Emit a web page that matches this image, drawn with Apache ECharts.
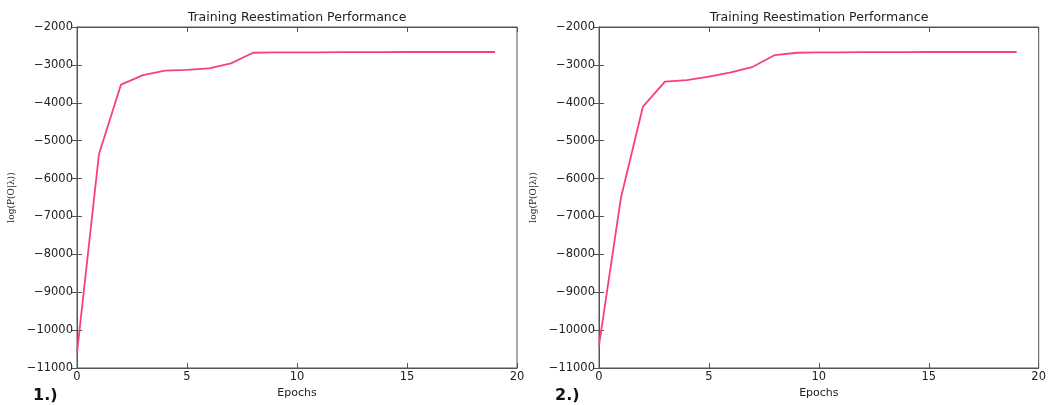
<!DOCTYPE html>
<html>
<head>
<meta charset="utf-8">
<script src="https://cdn.jsdelivr.net/npm/echarts@6/dist/echarts.min.js"></script>
<style>html,body{margin:0;padding:0;background:#fff}#c{width:1049px;height:405px}</style>
</head>
<body>
<div id="c"></div>
<script>
const epochs = [0,1,2,3,4,5,6,7,8,9,10,11,12,13,14,15,16,17,18,19];
const run1 = [-10600,-5350,-3520,-3270,-3150,-3130,-3090,-2960,-2680,-2670,-2670,-2670,-2665,-2665,-2665,-2660,-2660,-2660,-2660,-2660];
const run2 = [-10400,-6500,-4100,-3440,-3400,-3310,-3200,-3050,-2740,-2680,-2670,-2670,-2665,-2665,-2665,-2660,-2660,-2660,-2660,-2660];
const titles = ['Training Reestimation Performance','Training Reestimation Performance'];
const panelLabels = ['1.)','2.)'];
const xTicks = {min:0,max:20,interval:5};
const yTicks = {min:-11000,max:-2000,interval:1000};

const chart = echarts.init(document.getElementById('c'));
const lineColor = '#f7417a';
const axisColor = '#555';
const txt = '#222';
const fontFam = 'DejaVu Sans, sans-serif';
const lefts = [77, 599];
const W = 440, H = 341, TOP = 27;
const yFmt = v => (v < 0 ? '\u2212' : '') + Math.abs(v);

const grids = [], xAxes = [], yAxes = [], series = [], graphics = [];
[run1, run2].forEach((run, i) => {
  grids.push({left: lefts[i], top: TOP, width: W, height: H, show: true, borderColor: axisColor, borderWidth: 1, backgroundColor: '#fff'});
  xAxes.push({type:'value', gridIndex:i, min:xTicks.min, max:xTicks.max, interval:xTicks.interval, position:'bottom',
    name:'Epochs', nameLocation:'middle', nameGap:17, nameTextStyle:{color:txt, fontSize:11, fontFamily:fontFam},
    axisLine:{show:true, lineStyle:{color:axisColor}}, axisTick:{show:true, inside:true, length:5, lineStyle:{color:axisColor}},
    axisLabel:{color:txt, fontSize:11.5, fontFamily:fontFam, margin:3}, splitLine:{show:false}});
  xAxes.push({type:'value', gridIndex:i, min:xTicks.min, max:xTicks.max, interval:xTicks.interval, position:'top',
    axisLine:{show:true, lineStyle:{color:axisColor}}, axisTick:{show:true, inside:true, length:5, lineStyle:{color:axisColor}},
    axisLabel:{show:false}, splitLine:{show:false}});
  yAxes.push({type:'value', gridIndex:i, min:yTicks.min, max:yTicks.max, interval:yTicks.interval, position:'left',
    name:'log(P(O|λ))', nameLocation:'middle', nameGap:61, nameRotate:90,
    nameTextStyle:{color:txt, fontSize:9, fontFamily:'DejaVu Serif, serif'},
    axisLine:{show:true, lineStyle:{color:axisColor}}, axisTick:{show:true, inside:true, length:5, lineStyle:{color:axisColor}},
    axisLabel:{color:txt, fontSize:11.5, fontFamily:fontFam, margin:4, formatter:yFmt}, splitLine:{show:false}});
  yAxes.push({type:'value', gridIndex:i, min:yTicks.min, max:yTicks.max, interval:yTicks.interval, position:'right',
    axisLine:{show:true, lineStyle:{color:axisColor}}, axisTick:{show:true, inside:true, length:5, lineStyle:{color:axisColor}},
    axisLabel:{show:false}, splitLine:{show:false}});
  series.push({type:'line', xAxisIndex:2*i, yAxisIndex:2*i, data: epochs.map((e,k)=>[e, run[k]]),
    showSymbol:false, symbol:'none', lineStyle:{color:lineColor, width:1.8}, itemStyle:{color:lineColor}, animation:false});
  graphics.push({type:'text', x: lefts[i] + W/2, y: 18, style:{text: titles[i], fill: txt, font: '12.5px ' + fontFam, align:'center', verticalAlign:'middle'}});
  graphics.push({type:'text', x: lefts[i] - 44, y: 396, style:{text: panelLabels[i], fill: '#111', font: 'bold 16px ' + fontFam, verticalAlign:'middle'}});
});

chart.setOption({
  animation:false,
  backgroundColor:'#fff',
  grid: grids, xAxis: xAxes, yAxis: yAxes, series: series,
  graphic: graphics
});
</script>
</body>
</html>
